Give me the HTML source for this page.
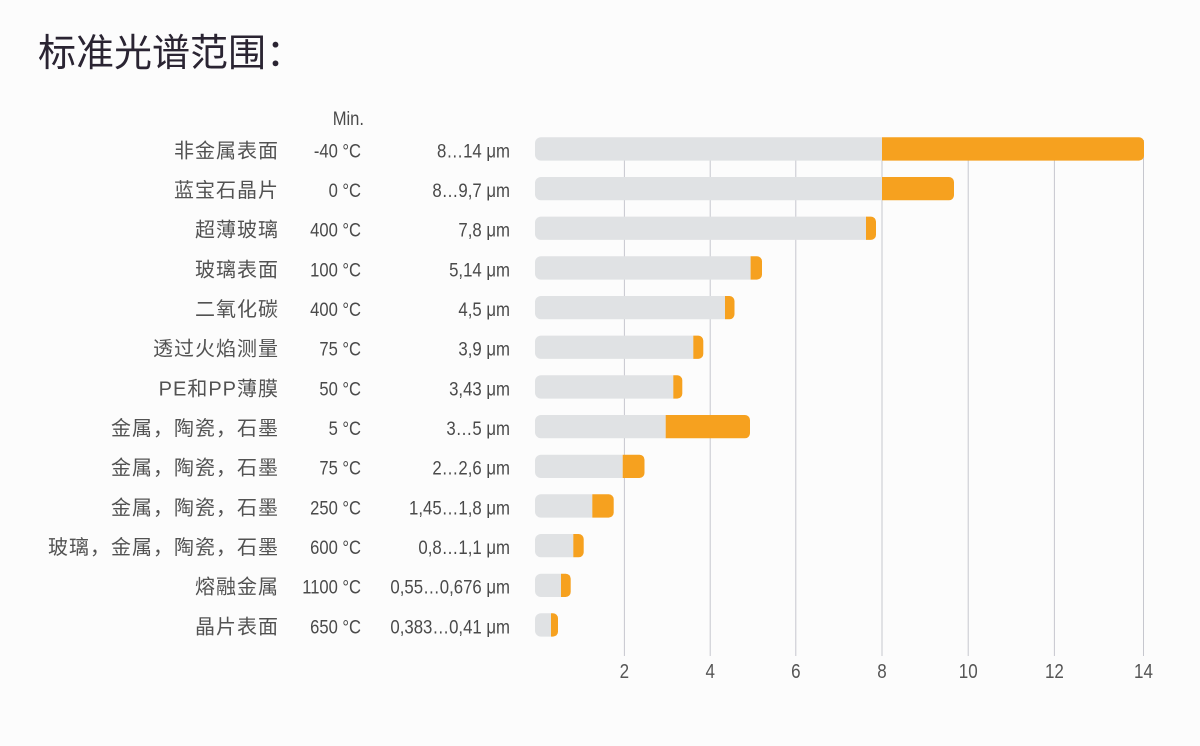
<!DOCTYPE html>
<html>
<head>
<meta charset="utf-8">
<style>
  html, body { margin:0; padding:0; background:#fcfcfc; }
  body { width:1200px; height:746px; overflow:hidden; }
  svg { display:block; }
  .lbl { font-family:"Liberation Sans","Noto Sans CJK SC",sans-serif; font-size:20px; fill:#525252; letter-spacing:1px; }
  .num { font-family:"Liberation Sans","Noto Sans CJK SC",sans-serif; font-size:19.5px; fill:#4a4a4a; }
  .tick { font-family:"Liberation Sans",sans-serif; font-size:20px; fill:#555; }
  .title { font-family:"Liberation Sans","Noto Sans CJK SC",sans-serif; font-size:38px; fill:#2a2432; }
</style>
</head>
<body>
<svg width="1200" height="746" viewBox="0 0 1200 746" xmlns="http://www.w3.org/2000/svg">
  <rect x="0" y="0" width="1200" height="746" fill="#fcfcfc"/>
  <text class="title" x="38" y="66">标准光谱范围：</text>

  <g stroke="#c6c7ce" stroke-width="1">
    <line x1="624.4" y1="140" x2="624.4" y2="656"/>
    <line x1="710.2" y1="140" x2="710.2" y2="656"/>
    <line x1="795.8" y1="140" x2="795.8" y2="656"/>
    <line x1="882" y1="140" x2="882" y2="656"/>
    <line x1="968.2" y1="140" x2="968.2" y2="656"/>
    <line x1="1054.4" y1="140" x2="1054.4" y2="656"/>
    <line x1="1143.5" y1="140" x2="1143.5" y2="656"/>
  </g>

  <g class="tick" text-anchor="middle">
    <text transform="translate(624.4,678) scale(0.85,1)">2</text>
    <text transform="translate(710.2,678) scale(0.85,1)">4</text>
    <text transform="translate(795.8,678) scale(0.85,1)">6</text>
    <text transform="translate(882,678) scale(0.85,1)">8</text>
    <text transform="translate(968.2,678) scale(0.85,1)">10</text>
    <text transform="translate(1054.4,678) scale(0.85,1)">12</text>
    <text transform="translate(1143.5,678) scale(0.85,1)">14</text>
  </g>

  <g id="bars">
    <!-- row 1 -->
    <path d="M541,137.3 H882 V160.6 H541 A6,6 0 0 1 535,154.6 V143.3 A6,6 0 0 1 541,137.3 Z" fill="#e0e2e4"/>
    <path d="M882,137.3 H1139 A5,5 0 0 1 1144,142.3 V155.6 A5,5 0 0 1 1139,160.6 H882 Z" fill="#f6a11f"/>
    <!-- row 2 -->
    <path d="M541,177.0 H882 V200.3 H541 A6,6 0 0 1 535,194.3 V183.0 A6,6 0 0 1 541,177.0 Z" fill="#e0e2e4"/>
    <path d="M882,177.0 H949 A5,5 0 0 1 954,182.0 V195.3 A5,5 0 0 1 949,200.3 H882 Z" fill="#f6a11f"/>
    <!-- row 3 -->
    <path d="M541,216.6 H866 V239.9 H541 A6,6 0 0 1 535,233.9 V222.6 A6,6 0 0 1 541,216.6 Z" fill="#e0e2e4"/>
    <path d="M866,216.6 H871 A5,5 0 0 1 876,221.6 V234.9 A5,5 0 0 1 871,239.9 H866 Z" fill="#f6a11f"/>
    <!-- row 4 -->
    <path d="M541,256.3 H750.6 V279.6 H541 A6,6 0 0 1 535,273.6 V262.3 A6,6 0 0 1 541,256.3 Z" fill="#e0e2e4"/>
    <path d="M750.6,256.3 H757 A5,5 0 0 1 762,261.3 V274.6 A5,5 0 0 1 757,279.6 H750.6 Z" fill="#f6a11f"/>
    <!-- row 5 -->
    <path d="M541,296.0 H725 V319.3 H541 A6,6 0 0 1 535,313.3 V302.0 A6,6 0 0 1 541,296.0 Z" fill="#e0e2e4"/>
    <path d="M725,296.0 H729.5 A5,5 0 0 1 734.5,301.0 V314.3 A5,5 0 0 1 729.5,319.3 H725 Z" fill="#f6a11f"/>
    <!-- row 6 -->
    <path d="M541,335.6 H693.3 V358.9 H541 A6,6 0 0 1 535,352.9 V341.6 A6,6 0 0 1 541,335.6 Z" fill="#e0e2e4"/>
    <path d="M693.3,335.6 H698.3 A5,5 0 0 1 703.3,340.6 V353.9 A5,5 0 0 1 698.3,358.9 H693.3 Z" fill="#f6a11f"/>
    <!-- row 7 -->
    <path d="M541,375.3 H673.3 V398.6 H541 A6,6 0 0 1 535,392.6 V381.3 A6,6 0 0 1 541,375.3 Z" fill="#e0e2e4"/>
    <path d="M673.3,375.3 H677.3 A5,5 0 0 1 682.3,380.3 V393.6 A5,5 0 0 1 677.3,398.6 H673.3 Z" fill="#f6a11f"/>
    <!-- row 8 -->
    <path d="M541,415.0 H665.7 V438.3 H541 A6,6 0 0 1 535,432.3 V421.0 A6,6 0 0 1 541,415.0 Z" fill="#e0e2e4"/>
    <path d="M665.7,415.0 H745 A5,5 0 0 1 750,420.0 V433.3 A5,5 0 0 1 745,438.3 H665.7 Z" fill="#f6a11f"/>
    <!-- row 9 -->
    <path d="M541,454.7 H622.7 V478.0 H541 A6,6 0 0 1 535,472.0 V460.7 A6,6 0 0 1 541,454.7 Z" fill="#e0e2e4"/>
    <path d="M622.7,454.7 H639.5 A5,5 0 0 1 644.5,459.7 V473.0 A5,5 0 0 1 639.5,478.0 H622.7 Z" fill="#f6a11f"/>
    <!-- row 10 -->
    <path d="M541,494.3 H592.3 V517.6 H541 A6,6 0 0 1 535,511.6 V500.3 A6,6 0 0 1 541,494.3 Z" fill="#e0e2e4"/>
    <path d="M592.3,494.3 H608.7 A5,5 0 0 1 613.7,499.3 V512.6 A5,5 0 0 1 608.7,517.6 H592.3 Z" fill="#f6a11f"/>
    <!-- row 11 -->
    <path d="M541,534.0 H573.3 V557.3 H541 A6,6 0 0 1 535,551.3 V540.0 A6,6 0 0 1 541,534.0 Z" fill="#e0e2e4"/>
    <path d="M573.3,534.0 H578.7 A5,5 0 0 1 583.7,539.0 V552.3 A5,5 0 0 1 578.7,557.3 H573.3 Z" fill="#f6a11f"/>
    <!-- row 12 -->
    <path d="M541,573.7 H561 V597.0 H541 A6,6 0 0 1 535,591.0 V579.7 A6,6 0 0 1 541,573.7 Z" fill="#e0e2e4"/>
    <path d="M561,573.7 H565.7 A5,5 0 0 1 570.7,578.7 V592.0 A5,5 0 0 1 565.7,597.0 H561 Z" fill="#f6a11f"/>
    <!-- row 13 -->
    <path d="M541,613.3 H551 V636.6 H541 A6,6 0 0 1 535,630.6 V619.3 A6,6 0 0 1 541,613.3 Z" fill="#e0e2e4"/>
    <path d="M551,613.3 H553 A5,5 0 0 1 558,618.3 V631.6 A5,5 0 0 1 553,636.6 H551 Z" fill="#f6a11f"/>
  </g>

  <text class="num" transform="translate(364,125) scale(0.85,1)" text-anchor="end">Min.</text>

  <g class="lbl" text-anchor="end">
    <text x="279" y="157.3">非金属表面</text>
    <text x="279" y="197.0">蓝宝石晶片</text>
    <text x="279" y="236.6">超薄玻璃</text>
    <text x="279" y="276.3">玻璃表面</text>
    <text x="279" y="316.0">二氧化碳</text>
    <text x="279" y="355.6">透过火焰测量</text>
    <text x="279" y="395.3">PE和PP薄膜</text>
    <text x="279" y="435.0">金属，陶瓷，石墨</text>
    <text x="279" y="474.7">金属，陶瓷，石墨</text>
    <text x="279" y="514.3">金属，陶瓷，石墨</text>
    <text x="279" y="554.0">玻璃，金属，陶瓷，石墨</text>
    <text x="279" y="593.7">熔融金属</text>
    <text x="279" y="633.3">晶片表面</text>
  </g>

  <g class="num" text-anchor="end">
    <text transform="translate(361,157.3) scale(0.85,1)">-40 °C</text>
    <text transform="translate(361,197.0) scale(0.85,1)">0 °C</text>
    <text transform="translate(361,236.6) scale(0.85,1)">400 °C</text>
    <text transform="translate(361,276.3) scale(0.85,1)">100 °C</text>
    <text transform="translate(361,316.0) scale(0.85,1)">400 °C</text>
    <text transform="translate(361,355.6) scale(0.85,1)">75 °C</text>
    <text transform="translate(361,395.3) scale(0.85,1)">50 °C</text>
    <text transform="translate(361,435.0) scale(0.85,1)">5 °C</text>
    <text transform="translate(361,474.7) scale(0.85,1)">75 °C</text>
    <text transform="translate(361,514.3) scale(0.85,1)">250 °C</text>
    <text transform="translate(361,554.0) scale(0.85,1)">600 °C</text>
    <text transform="translate(361,593.7) scale(0.85,1)">1100 °C</text>
    <text transform="translate(361,633.3) scale(0.85,1)">650 °C</text>
  </g>

  <g class="num" text-anchor="end">
    <text transform="translate(510,157.3) scale(0.86,1)">8…14 μm</text>
    <text transform="translate(510,197.0) scale(0.86,1)">8…9,7 μm</text>
    <text transform="translate(510,236.6) scale(0.86,1)">7,8 μm</text>
    <text transform="translate(510,276.3) scale(0.86,1)">5,14 μm</text>
    <text transform="translate(510,316.0) scale(0.86,1)">4,5 μm</text>
    <text transform="translate(510,355.6) scale(0.86,1)">3,9 μm</text>
    <text transform="translate(510,395.3) scale(0.86,1)">3,43 μm</text>
    <text transform="translate(510,435.0) scale(0.86,1)">3…5 μm</text>
    <text transform="translate(510,474.7) scale(0.86,1)">2…2,6 μm</text>
    <text transform="translate(510,514.3) scale(0.86,1)">1,45…1,8 μm</text>
    <text transform="translate(510,554.0) scale(0.86,1)">0,8…1,1 μm</text>
    <text transform="translate(510,593.7) scale(0.86,1)">0,55…0,676 μm</text>
    <text transform="translate(510,633.3) scale(0.86,1)">0,383…0,41 μm</text>
  </g>
</svg>
</body>
</html>
